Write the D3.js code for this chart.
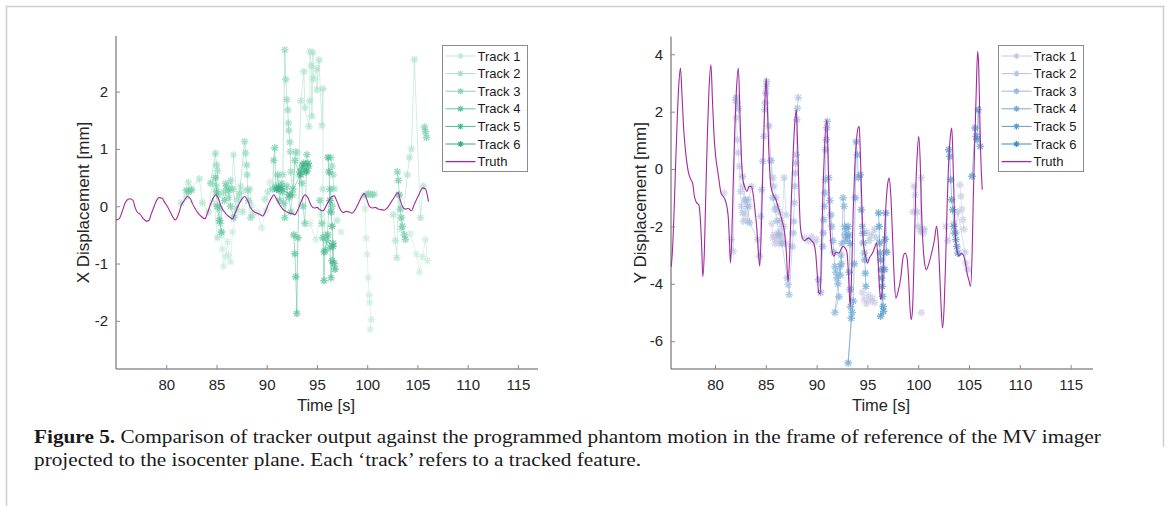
<!DOCTYPE html>
<html>
<head>
<meta charset="utf-8">
<script src="https://cdn.jsdelivr.net/npm/d3@7"></script>
<style>
  body { margin: 0; background: #fff; }
  svg { display: block; }
</style>
</head>
<body>
<div id="figure-div"></div>
<script>
// Data: [time s, displacement mm]
const trackNames = ['Track 1', 'Track 2', 'Track 3', 'Track 4', 'Track 5', 'Track 6'];

const truthX = [[75.0,-0.24],[75.3,-0.22],[75.6,-0.1],[75.9,0.05],[76.2,0.12],[76.4,0.13],[76.7,0.1],[76.9,-0.02],[77.1,-0.1],[77.4,-0.14],[77.6,-0.19],[77.8,-0.23],[78.05,-0.26],[78.3,-0.24],[78.5,-0.14],[78.8,0.0],[79.1,0.12],[79.3,0.15],[79.6,0.14],[79.8,0.08],[80.1,0.0],[80.4,-0.1],[80.7,-0.2],[80.9,-0.24],[81.2,-0.15],[81.5,0.02],[81.8,0.1],[82.1,0.17],[82.4,0.13],[82.6,0.05],[82.9,-0.05],[83.2,-0.13],[83.5,-0.18],[83.85,-0.22],[84.1,-0.12],[84.4,0.03],[84.7,0.15],[84.95,0.2],[85.2,0.13],[85.5,-0.02],[85.8,-0.1],[86.1,-0.16],[86.4,-0.2],[86.6,-0.22],[86.9,-0.1],[87.2,0.02],[87.5,0.12],[87.8,0.17],[88.1,0.1],[88.4,-0.03],[88.7,-0.09],[89.0,-0.12],[89.3,-0.14],[89.6,-0.17],[89.9,-0.08],[90.2,0.05],[90.5,0.15],[90.7,0.2],[91.0,0.12],[91.3,0.02],[91.6,-0.05],[91.9,-0.09],[92.3,-0.12],[92.6,-0.13],[92.8,-0.15],[93.1,-0.06],[93.4,0.07],[93.6,0.15],[93.8,0.2],[94.1,0.15],[94.4,0.02],[94.7,-0.03],[95.0,-0.02],[95.3,-0.06],[95.6,-0.08],[95.9,0.0],[96.2,0.1],[96.5,0.17],[96.7,0.18],[97.0,0.08],[97.3,-0.05],[97.6,-0.11],[97.9,-0.09],[98.2,-0.1],[98.5,-0.12],[98.8,-0.06],[99.1,0.04],[99.4,0.15],[99.7,0.22],[100.0,0.1],[100.2,0.0],[100.5,-0.03],[100.8,-0.02],[101.1,-0.05],[101.4,-0.06],[101.7,-0.07],[102.0,-0.03],[102.3,0.05],[102.6,0.13],[102.85,0.2],[103.05,0.24],[103.3,0.1],[103.5,0.0],[103.8,-0.05],[104.1,-0.04],[104.4,-0.08],[104.7,0.04],[105.0,0.15],[105.3,0.26],[105.5,0.32],[105.8,0.3],[106.1,0.08]];

const truthY = [[75.7,-3.4],[75.85,-2.6],[76.0,-1.2],[76.15,0.4],[76.3,1.9],[76.45,3.0],[76.6,3.52],[76.75,2.6],[76.9,1.5],[77.05,0.8],[77.2,0.3],[77.4,-0.14],[77.6,-0.35],[77.8,-0.5],[78.0,-1.0],[78.2,-1.18],[78.4,-1.24],[78.55,-1.7],[78.7,-2.8],[78.8,-3.75],[78.95,-2.9],[79.1,-0.8],[79.25,1.2],[79.4,2.7],[79.6,3.63],[79.75,2.4],[79.9,1.2],[80.05,0.5],[80.3,-0.14],[80.6,-0.84],[80.9,-1.0],[81.1,-1.2],[81.3,-1.65],[81.42,-2.5],[81.52,-3.28],[81.65,-2.4],[81.8,-0.4],[81.95,1.4],[82.1,2.7],[82.3,3.52],[82.45,2.0],[82.6,0.4],[82.75,-0.37],[82.95,-0.65],[83.15,-0.78],[83.35,-0.6],[83.6,-0.62],[83.8,-1.0],[83.95,-1.5],[84.1,-2.0],[84.25,-2.8],[84.4,-3.39],[84.55,-2.2],[84.7,-0.1],[84.85,1.8],[85.03,3.17],[85.15,2.2],[85.3,0.6],[85.5,-0.6],[85.8,-0.95],[86.0,-1.07],[86.2,-1.3],[86.4,-1.53],[86.6,-1.8],[86.8,-2.1],[87.0,-2.8],[87.2,-3.92],[87.35,-3.0],[87.5,-1.2],[87.7,0.6],[87.85,1.6],[88.0,2.07],[88.1,1.2],[88.25,-0.6],[88.4,-2.0],[88.6,-2.4],[88.8,-2.5],[89.0,-2.45],[89.2,-2.4],[89.5,-2.5],[89.7,-2.58],[89.9,-2.9],[90.05,-3.6],[90.2,-4.3],[90.35,-4.35],[90.5,-2.5],[90.65,-0.5],[90.8,0.9],[91.0,1.72],[91.1,0.8],[91.22,-1.0],[91.35,-2.23],[91.5,-2.8],[91.7,-3.04],[91.9,-2.9],[92.2,-2.93],[92.4,-2.8],[92.6,-2.7],[92.8,-2.75],[93.0,-2.93],[93.15,-3.8],[93.3,-4.79],[93.45,-3.6],[93.6,-1.5],[93.75,0.0],[93.9,0.9],[94.1,1.45],[94.2,1.48],[94.3,0.6],[94.45,-1.2],[94.6,-2.58],[94.8,-3.0],[95.0,-3.28],[95.2,-3.1],[95.5,-2.93],[95.7,-2.75],[95.9,-2.58],[96.05,-3.2],[96.2,-4.2],[96.3,-4.55],[96.45,-4.2],[96.6,-3.0],[96.8,-1.4],[97.0,-0.5],[97.15,-0.31],[97.3,-0.9],[97.5,-2.6],[97.65,-3.9],[97.8,-4.5],[98.0,-4.3],[98.3,-3.74],[98.5,-3.1],[98.7,-2.93],[98.9,-3.1],[99.05,-3.8],[99.2,-4.9],[99.32,-5.25],[99.45,-4.8],[99.6,-3.0],[99.75,-0.8],[99.9,0.5],[100.05,1.14],[100.2,0.2],[100.3,-1.2],[100.45,-2.5],[100.6,-3.2],[100.8,-3.51],[101.0,-3.35],[101.2,-3.1],[101.4,-2.8],[101.6,-2.46],[101.8,-2.0],[101.95,-2.4],[102.1,-3.5],[102.25,-4.8],[102.4,-5.54],[102.55,-4.8],[102.7,-3.2],[102.85,-1.2],[103.0,0.3],[103.15,1.1],[103.3,1.43],[103.4,0.6],[103.55,-1.4],[103.7,-2.58],[103.85,-2.9],[104.0,-3.04],[104.2,-2.95],[104.4,-2.98],[104.6,-3.2],[104.8,-3.62],[105.0,-3.9],[105.15,-4.09],[105.3,-3.0],[105.42,-1.0],[105.55,0.8],[105.7,2.6],[105.85,4.1],[105.95,3.6],[106.05,2.0],[106.15,0.5],[106.3,-0.72]];

const xTrack1 = [[84.7,0.05],[85.3,-0.2],[85.5,-0.5],[85.6,-0.75],[85.7,-1.05],[85.9,-0.88],[86.1,-0.62],[86.2,-0.85],[86.4,-0.97],[86.6,-0.45],[86.9,-0.15],[87.3,0.12],[87.7,0.28],[88.5,0.02],[89.1,-0.1],[89.5,-0.38],[89.9,-0.08],[90.3,0.42],[94.3,-0.3],[94.9,-0.58],[95.4,-0.15],[97.4,-0.45],[99.6,0.18],[99.8,-0.05],[99.9,-0.56],[100.0,-0.84],[100.1,-1.25],[100.2,-1.55],[100.25,-1.68],[100.4,-1.98],[100.3,-2.15],[104.3,-0.48],[104.9,-0.84],[105.2,-1.15],[105.5,-0.88],[105.8,-0.58],[106.0,-0.95]];
const xTrack2 = [[81.5,0.06],[82.0,0.16],[82.2,0.42],[82.5,0.3],[83.3,0.48],[83.6,0.06],[84.2,-0.1],[84.6,0.4],[85.1,-0.55],[86.5,0.3],[86.7,0.9],[87.0,0.12],[87.4,0.35],[87.6,-0.1],[88.3,0.3],[88.6,-0.15],[89.8,0.12],[90.1,0.25],[93.0,0.93],[93.2,0.55],[93.4,1.84],[93.7,2.35],[93.8,1.72],[94.2,1.39],[94.3,1.84],[94.3,2.7],[94.45,2.45],[94.5,1.57],[94.6,2.68],[94.65,2.22],[95.0,2.4],[95.0,2.03],[95.2,2.55],[95.5,1.41],[95.6,2.05],[95.6,0.3],[95.8,-0.5],[97.0,-0.25],[102.6,-0.15],[102.8,-0.6],[102.95,-0.9],[103.1,0.2],[103.4,-0.4],[104.0,0.55],[104.2,0.85],[104.4,1.0],[104.7,2.56],[105.3,-0.2],[105.6,0.35]];
const xTrack3 = [[84.4,0.4],[84.9,0.92],[85.0,0.72],[85.1,0.62],[85.0,0.35],[85.2,0.2],[85.3,-0.05],[85.4,-0.3],[85.7,0.25],[85.9,0.4],[86.2,0.15],[86.4,0.45],[86.6,0.3],[87.0,-0.05],[87.3,0.22],[87.8,1.13],[87.9,0.93],[88.0,0.72],[88.05,0.55],[88.1,0.28],[88.2,0.1],[88.4,-0.2],[91.6,0.55],[91.8,2.73],[91.9,2.21],[92.0,1.86],[92.1,1.68],[92.15,1.45],[92.2,1.32],[92.3,1.12],[92.35,0.95],[92.4,0.6],[92.6,0.2],[92.9,0.95],[96.4,0.85],[96.5,0.7],[96.6,0.55],[96.7,0.3],[99.9,0.2],[100.1,0.22],[100.3,0.21],[100.5,0.2],[100.7,0.21]];
const xTrack4 = [[82.0,0.28],[82.2,0.25],[82.5,0.28],[85.8,0.1],[86.0,0.35],[86.2,0.28],[86.4,0.0],[86.7,-0.2],[90.6,0.3],[90.7,0.8],[90.8,1.02],[90.9,0.35],[91.0,0.3],[91.1,0.55],[91.2,0.28],[91.3,0.1],[91.4,0.35],[91.5,0.4],[91.6,0.25],[91.7,0.05],[91.8,-0.2],[92.0,0.35],[92.2,0.15],[92.4,-0.1],[92.6,0.3],[92.8,0.8],[93.5,0.4],[93.6,0.0],[93.8,-0.3],[94.0,0.9],[95.3,0.1],[95.5,-0.3],[95.7,-0.8],[96.0,-0.6],[96.3,0.3],[96.5,0.0],[103.0,0.6],[103.1,0.45],[103.2,0.2],[103.3,-0.05],[103.4,-0.2],[103.5,-0.35],[103.7,-0.5],[103.8,-0.58],[105.7,1.38],[105.8,1.3],[105.9,1.2]];
const xTrack5 = [[84.9,0.5],[85.0,0.25],[85.1,0.0],[85.3,-0.25],[85.5,-0.45],[92.7,-0.5],[92.8,-0.83],[92.9,-1.23],[93.0,-1.87],[93.1,-0.55],[93.3,0.6],[93.5,0.65],[93.7,0.75],[94.0,0.62],[94.2,0.7],[95.6,-0.55],[95.7,-1.3],[95.8,-0.78],[96.1,-0.5],[96.3,-0.72],[96.4,-1.25],[96.5,-0.95],[96.6,-0.65]];
const xTrack6 = [[91.0,0.3],[91.2,0.32],[91.5,0.3],[92.3,0.2],[93.4,0.55],[93.6,0.72],[93.9,0.6],[94.1,0.75],[96.1,0.85],[96.2,0.6],[96.3,0.1],[96.4,-0.1],[96.5,-0.35],[96.6,-0.7],[96.7,-1.0],[96.8,-1.1]];

const yTrack1 = [[80.9,-0.84],[82.7,-0.6],[82.9,-1.1],[83.0,-1.55],[83.2,-1.8],[83.4,-1.3],[85.6,-1.9],[85.7,-2.4],[85.8,-2.3],[85.9,-2.6],[86.0,-2.45],[86.1,-2.3],[86.2,-2.2],[86.3,-2.6],[86.4,-2.5],[86.5,-2.2],[86.6,-2.35],[86.7,-2.55],[86.8,-2.0],[87.0,-2.6],[88.8,-2.4],[89.2,-2.5],[89.5,-2.35],[89.8,-2.55],[90.0,-2.45],[94.5,-4.3],[94.7,-4.55],[94.9,-4.7],[95.1,-4.4],[95.3,-4.6],[95.5,-4.5],[95.7,-4.65],[100.3,-5.0],[104.1,-0.55],[104.2,-0.95],[104.3,-1.4],[104.4,-1.77],[104.5,-2.1]];
const yTrack2 = [[81.6,-2.46],[81.8,-2.87],[82.0,2.4],[82.1,1.79],[82.2,1.02],[82.3,0.57],[82.4,0.09],[82.5,-0.78],[82.6,-1.3],[82.7,-1.52],[82.8,-1.82],[83.3,-1.07],[83.6,-0.6],[85.5,0.3],[85.7,-0.3],[85.8,-0.6],[86.0,-1.0],[86.1,-1.3],[86.3,-1.5],[86.5,-1.8],[86.6,-2.0],[86.8,-0.3],[87.0,-1.6],[94.9,-2.2],[95.2,-2.5],[95.4,-2.3],[95.7,-2.1],[95.9,-2.4],[99.5,-1.5],[99.6,-0.6],[99.7,-0.9],[99.9,-1.5],[100.0,-2.0],[100.2,-2.17],[100.3,-0.3],[100.4,-2.1],[100.5,-2.24],[100.6,-2.1],[102.7,-2.0],[102.9,-2.5],[103.5,-1.9],[103.7,-2.2],[103.9,-1.5],[104.6,-2.9],[104.7,-3.28],[104.9,-3.5]];
const yTrack3 = [[82.1,2.5],[82.2,2.3],[82.3,2.1],[82.7,-0.26],[83.0,-1.07],[83.2,-1.3],[83.4,-1.87],[84.2,-2.46],[84.4,-3.04],[84.5,-1.65],[84.6,-0.72],[84.7,0.27],[84.8,1.14],[84.9,2.07],[84.95,2.3],[85.0,2.65],[85.05,2.88],[85.1,3.05],[85.3,1.5],[85.5,0.3],[85.7,-1.0],[85.9,-1.4],[86.1,-1.8],[86.3,-2.3],[86.6,-2.6],[87.1,-3.8],[87.2,-4.03],[87.3,-4.38],[87.6,-2.7],[87.7,-2.23],[87.75,-1.83],[87.8,-1.18],[87.85,-0.6],[87.9,-0.14],[87.95,0.21],[88.0,0.5],[88.05,1.72],[88.1,2.12],[88.2,2.49]];
const yTrack4 = [[90.2,-3.86],[90.4,-4.3],[90.6,-2.7],[90.65,-2.23],[90.7,-1.77],[90.75,-1.3],[90.8,-0.83],[90.85,-0.37],[90.9,0.67],[90.95,1.02],[91.0,1.44],[91.05,1.66],[91.2,-0.3],[91.3,-1.1],[91.4,-1.6],[91.5,-2.0],[91.6,-2.5],[91.7,-2.9],[91.8,-3.4],[91.9,-3.6],[92.0,-3.8],[92.1,-4.0],[92.2,-4.45],[91.8,-5.0],[92.3,-3.4],[92.35,-3.7],[92.4,-3.0],[92.45,-3.3],[92.5,-2.6],[92.6,-1.0],[92.7,-1.3],[92.75,-2.0],[92.8,-2.3],[92.85,-2.5],[92.9,-2.1],[93.0,-2.4]];
const yTrack5 = [[93.1,-2.0],[93.2,-2.3],[93.3,-2.6],[93.2,-3.6],[93.3,-4.2],[93.35,-4.8],[93.4,-5.2],[93.1,-6.76],[93.5,-5.0],[93.6,-4.6],[93.7,-3.3],[93.8,-1.0],[93.9,0.95],[94.0,0.5],[94.1,-0.3],[94.3,-0.2],[94.4,-1.42],[94.5,-2.0],[94.55,-2.24],[94.6,-2.58],[94.7,-2.93],[94.75,-3.16],[94.8,-3.63],[94.85,-4.09]];
const yTrack6 = [[96.1,-1.53],[96.15,-2.0],[96.2,-2.58],[96.25,-2.93],[96.3,-3.16],[96.35,-3.51],[96.4,-3.8],[96.45,-4.09],[96.5,-4.44],[96.55,-4.79],[96.6,-4.96],[96.3,-5.13],[96.7,-3.5],[96.75,-2.45],[96.8,-1.53],[96.9,-2.9],[103.0,0.67],[103.1,0.44],[103.2,-0.37],[103.3,-1.07],[103.4,-1.42],[103.5,-2.0],[103.6,-2.24],[103.7,-2.46],[103.8,-2.7],[103.9,-2.93],[105.3,-0.25],[105.6,1.43],[105.7,1.14],[105.8,1.02],[105.9,2.07],[106.1,0.79]];

const xTicks = [80, 85, 90, 95, 100, 105, 110, 115];
const xPanelYTicks = [-2, -1, 0, 1, 2];
const yPanelYTicks = [-6, -4, -2, 0, 2, 4];

const captionBold = 'Figure 5.';
const captionLine1 = ' Comparison of tracker output against the programmed phantom motion in the frame of reference of the MV imager';
const captionLine2 = 'projected to the isocenter plane. Each \u2018track\u2019 refers to a tracked feature.';

// Constants
const WIDTH = 1170;
const HEIGHT = 506;
const FONT = '"Liberation Sans", Arial, Helvetica, sans-serif';
const TRUTH_COLOR = '#a3299f';
const greens = ['#c2e9d8', '#a4dfc8', '#84d4b5', '#63c7a0', '#48bb8f', '#35ae83'];
const blues = ['#c6c6e2', '#b2c2df', '#97b8da', '#78aad4', '#5b9ccc', '#3d8dc3'];

const svg = d3.select('#figure-div')
  .append('svg')
  .attr('width', WIDTH)
  .attr('height', HEIGHT);

// slight softening of the markers, like the scanned figure
svg.append('defs')
  .append('filter')
  .attr('id', 'soft')
  .append('feGaussianBlur')
  .attr('stdDeviation', 0.35);

// frame around the figure
svg.append('path')
  .attr('d', 'M6.5,506 L6.5,6.5 L1163.5,6.5 L1163.5,447')
  .attr('fill', 'none')
  .attr('stroke', '#cfcfcf')
  .attr('stroke-width', 1.5);

function starPath(r) {
  const d = r * 0.72;
  return `M${-r},0L${r},0M0,${-r}L0,${r}M${-d},${-d}L${d},${d}M${-d},${d}L${d},${-d}`;
}

function drawPanel(opt) {
  const g = svg.append('g');
  const x = d3.scaleLinear().domain(opt.xDomain).range(opt.xRange);
  const y = d3.scaleLinear().domain(opt.yDomain).range(opt.yRange);

  // tracks: thin joined lines, broken at gaps, and * markers
  const line = d3.line()
    .defined(d => d !== null)
    .x(d => x(d[0]))
    .y(d => y(d[1]));

  const tg = g.append('g').attr('filter', 'url(#soft)');
  opt.tracks.forEach((tr, i) => {
    let pts = [];
    tr.forEach((p, k) => {
      if (k > 0 && Math.abs(p[0] - tr[k - 1][0]) > 1.2) pts.push(null);
      pts.push(p);
    });
    tg.append('path')
      .datum(pts)
      .attr('d', line)
      .attr('fill', 'none')
      .attr('stroke', opt.colors[i])
      .attr('stroke-opacity', 0.5)
      .attr('stroke-width', 1);
    tg.selectAll('.m' + i)
      .data(tr)
      .join('path')
      .attr('class', 'm' + i)
      .attr('transform', d => `translate(${x(d[0])},${y(d[1])})`)
      .attr('d', starPath(3.8))
      .attr('fill', 'none')
      .attr('stroke', opt.colors[i])
      .attr('stroke-opacity', 0.65)
      .attr('stroke-width', 1.4);
  });

  g.append('path')
    .datum(opt.truth)
    .attr('d', d3.line().curve(d3.curveMonotoneX).x(d => x(d[0])).y(d => y(d[1])))
    .attr('fill', 'none')
    .attr('stroke', TRUTH_COLOR)
    .attr('stroke-width', 1.1);

  // axes
  const xAxis = g.append('g')
    .attr('transform', `translate(0,${opt.yRange[0]})`)
    .call(d3.axisBottom(x).tickValues(xTicks).tickFormat(d => String(d)).tickSize(-4).tickPadding(10));
  const yAxis = g.append('g')
    .attr('transform', `translate(${opt.xRange[0]},0)`)
    .call(d3.axisLeft(y).tickValues(opt.yTicks).tickFormat(d => String(d)).tickSize(-4).tickPadding(8));
  [xAxis, yAxis].forEach(a => {
    a.select('.domain').attr('stroke', '#5a5a5a');
    a.selectAll('line').attr('stroke', '#8a8a8a');
    a.selectAll('text').attr('fill', '#262626').style('font', `15px ${FONT}`);
  });
  xAxis.select('.domain').attr('d', `M${opt.xRange[0]},0H${opt.xRange[1]}`);
  yAxis.select('.domain').attr('d', `M0,${opt.yRange[0]}V${opt.yRange[1]}`);

  g.append('text')
    .attr('x', (opt.xRange[0] + opt.xRange[1]) / 2 - 1)
    .attr('y', 411)
    .attr('text-anchor', 'middle')
    .attr('fill', '#262626')
    .style('font', `16.5px ${FONT}`)
    .text('Time [s]');
  g.append('text')
    .attr('transform', `translate(${opt.labelX},${(opt.yRange[0] + opt.yRange[1]) / 2}) rotate(-90)`)
    .attr('text-anchor', 'middle')
    .attr('fill', '#262626')
    .style('font', `17px ${FONT}`)
    .text(opt.yLabel);

  // legend
  const lg = g.append('g').attr('transform', `translate(${opt.legend[0]},${opt.legend[1]})`);
  lg.append('rect')
    .attr('width', 85)
    .attr('height', 126)
    .attr('fill', '#fff')
    .attr('stroke', '#8c8c8c')
    .attr('stroke-width', 1);
  const rows = trackNames.concat(['Truth']);
  rows.forEach((name, i) => {
    const ry = 10.5 + i * 17.6;
    const c = i < 6 ? opt.colors[i] : TRUTH_COLOR;
    lg.append('line')
      .attr('x1', 3).attr('x2', 33).attr('y1', ry).attr('y2', ry)
      .attr('stroke', c)
      .attr('stroke-width', i < 6 ? 1 : 1.3);
    if (i < 6) {
      lg.append('path')
        .attr('transform', `translate(18,${ry})`)
        .attr('d', starPath(3))
        .attr('fill', 'none')
        .attr('stroke', c)
        .attr('stroke-width', 1.2);
    }
    lg.append('text')
      .attr('x', 35)
      .attr('y', ry + 4.5)
      .attr('fill', '#1a1a1a')
      .style('font', `13px ${FONT}`)
      .text(name);
  });
}

drawPanel({
  xDomain: [75, 117], xRange: [116, 538],
  yDomain: [-2.84, 2.97], yRange: [369, 36],
  yTicks: xPanelYTicks,
  tracks: [xTrack1, xTrack2, xTrack3, xTrack4, xTrack5, xTrack6],
  colors: greens,
  truth: truthX,
  yLabel: 'X Displacement [mm]',
  labelX: 89,
  legend: [442.5, 45.5]
});

drawPanel({
  xDomain: [75.67, 117.2], xRange: [671, 1093],
  yDomain: [-6.97, 4.62], yRange: [369, 36.5],
  yTicks: yPanelYTicks,
  tracks: [yTrack1, yTrack2, yTrack3, yTrack4, yTrack5, yTrack6],
  colors: blues,
  truth: truthY,
  yLabel: 'Y Displacement [mm]',
  labelX: 646,
  legend: [998.5, 45.5]
});

// caption, stretched horizontally to the width of the printed one
const cap = svg.append('g')
  .attr('transform', 'translate(34,0) scale(1.12,1)')
  .style('font-family', '"Liberation Serif", "Times New Roman", serif')
  .style('font-size', '19px')
  .attr('fill', '#1a1a1a');
const t1 = cap.append('text').attr('x', 0).attr('y', 443);
t1.append('tspan').attr('font-weight', 'bold').text(captionBold);
t1.append('tspan').text(captionLine1);
cap.append('text').attr('x', 0).attr('y', 466).text(captionLine2);
</script>
</body>
</html>
